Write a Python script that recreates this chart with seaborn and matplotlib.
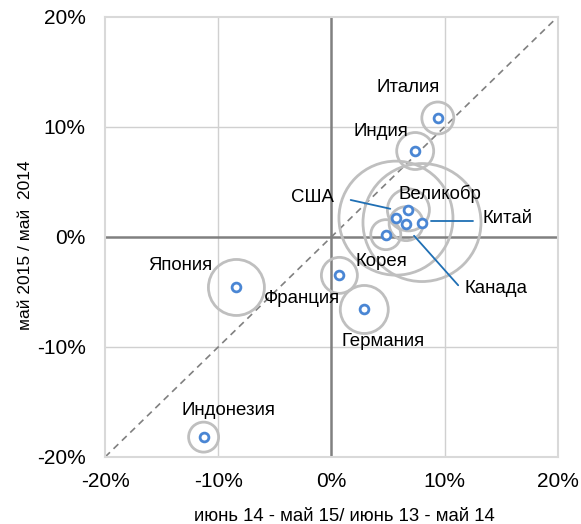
import matplotlib
matplotlib.use('Agg')
import matplotlib.pyplot as plt
import seaborn as sns
import numpy as np
import pandas as pd

# данные (%, по картинке)
countries = ['Италия', 'Индия', 'Великобр', 'США', 'Китай', 'Канада',
             'Корея', 'Франция', 'Германия', 'Япония', 'Индонезия']
x_vals = [9.4, 7.4, 6.8, 5.7, 8.0, 6.6, 4.8, 0.7, 2.9, -8.4, -11.3]
y_vals = [10.8, 7.8, 2.45, 1.7, 1.3, 1.2, 0.2, -3.5, -6.6, -4.6, -18.2]
# размер пузыря (относительная площадь)
weights = [256, 342, 441, 3249, 3481, 289, 225, 324, 576, 784, 225]

# подписи: положение текста
label_x = [6.8, 4.4, 9.6, -1.7, 15.6, 14.5, 4.4, -2.6, 4.6, -13.4, -9.1]
label_y = [13.6, 9.6, 3.9, 3.6, 1.7, -4.7, -2.2, -5.6, -9.5, -2.6, -15.8]

df = pd.DataFrame({'x': x_vals, 'y': y_vals, 'w': weights, 'name': countries})

sns.set_style('white')
plt.rcParams['font.family'] = ['Liberation Sans', 'DejaVu Sans']

fig = plt.figure(figsize=(5.81, 5.24), dpi=100)
ax = fig.add_axes([0.181, 0.128, 0.779, 0.840])

# сетка
for v in [-10, 10]:
    ax.axvline(v, color='#d0d0d0', lw=1, zorder=0)
    ax.axhline(v, color='#d0d0d0', lw=1, zorder=0)
ax.axvline(0, color='#808080', lw=1.8, zorder=1)
ax.axhline(0, color='#808080', lw=1.8, zorder=1)

# диагональ
ax.plot([-20, 20], [-20, 20], ls=(0, (4, 3)), color='#808080', lw=1.2, zorder=1)

# пузыри: радиус в пикселях = sqrt(w) -> площадь в pt^2
s_bubble = (2 * np.sqrt(df['w']) * 72 / 100) ** 2
sns.scatterplot(data=df, x='x', y='y', s=s_bubble, facecolor='none',
                edgecolor='#bfbfbf', linewidth=2, ax=ax, zorder=2, legend=False)
sns.scatterplot(data=df, x='x', y='y', s=40, facecolor='white',
                edgecolor='#4a86d4', linewidth=2, ax=ax, zorder=3, legend=False)

# подписи
for name, lx, ly in zip(countries, label_x, label_y):
    ax.text(lx, ly, name, ha='center', va='center', fontsize=13.4,
            color='black', zorder=4)

# линии-выноски
ax.plot([1.7, 5.2], [3.35, 2.55], color='#1f6fb4', lw=1.3, zorder=4)
ax.plot([8.8, 12.5], [1.45, 1.45], color='#1f6fb4', lw=1.3, zorder=4)
ax.plot([7.3, 11.2], [0.1, -4.4], color='#1f6fb4', lw=1.3, zorder=4)

ax.set_xlim(-20, 20)
ax.set_ylim(-20, 20)
ticks = [-20, -10, 0, 10, 20]
ax.set_xticks(ticks)
ax.set_yticks(ticks)
ax.set_xticklabels([f'{t}%' for t in ticks], fontsize=15, color='black')
ax.set_yticklabels([f'{t}%' for t in ticks], fontsize=15, color='black')
ax.tick_params(axis='x', length=0, pad=11)
ax.tick_params(axis='y', length=0, pad=14)
ax.set_xlabel('июнь 14 - май 15/ июнь 13 - май 14', fontsize=13.4,
              labelpad=12, color='black')
ax.set_ylabel('май 2015 / май  2014', fontsize=12.5, labelpad=3, color='black')
ax.xaxis.label.set_x(0.528)
ax.yaxis.label.set_y(0.48)
for sp in ax.spines.values():
    sp.set_color('#d9d9d9')
    sp.set_linewidth(1.5)

fig.savefig('out.png', dpi=100)
